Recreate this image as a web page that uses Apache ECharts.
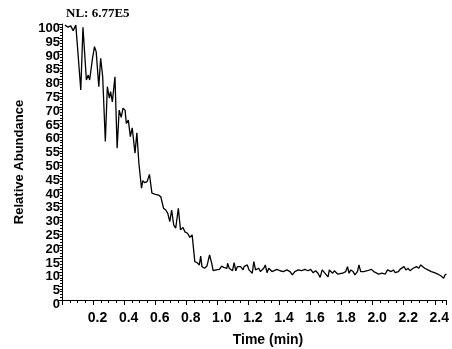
<!DOCTYPE html>
<html><head><meta charset="utf-8">
<script src="https://cdn.jsdelivr.net/npm/echarts@6/dist/echarts.min.js"></script>
<style>html,body{margin:0;padding:0;background:#fff}#c{width:452px;height:349px}</style>
</head><body><div id="c"></div>
<script>
const times = [0.019,0.040,0.055,0.072,0.089,0.121,0.135,0.157,0.169,0.178,0.195,0.209,0.220,0.237,0.249,0.262,0.279,0.292,0.305,0.313,0.324,0.341,0.355,0.368,0.381,0.393,0.406,0.414,0.427,0.440,0.452,0.470,0.482,0.495,0.512,0.520,0.533,0.548,0.563,0.579,0.601,0.622,0.636,0.654,0.668,0.681,0.694,0.706,0.719,0.732,0.749,0.763,0.779,0.791,0.808,0.823,0.838,0.855,0.871,0.884,0.893,0.901,0.918,0.933,0.950,0.964,0.973,0.992,1.013,1.028,1.041,1.049,1.062,1.066,1.077,1.087,1.098,1.108,1.119,1.129,1.140,1.150,1.166,1.172,1.182,1.193,1.204,1.214,1.225,1.235,1.246,1.256,1.267,1.277,1.288,1.299,1.309,1.320,1.331,1.341,1.352,1.362,1.383,1.404,1.426,1.447,1.468,1.483,1.499,1.521,1.542,1.563,1.584,1.601,1.616,1.633,1.648,1.662,1.675,1.690,1.700,1.713,1.721,1.728,1.743,1.753,1.764,1.775,1.785,1.806,1.827,1.838,1.848,1.859,1.874,1.886,1.902,1.912,1.923,1.933,1.944,1.954,1.965,1.975,1.992,2.007,2.018,2.039,2.060,2.081,2.096,2.107,2.119,2.134,2.145,2.155,2.166,2.176,2.187,2.202,2.214,2.229,2.240,2.251,2.261,2.272,2.282,2.297,2.310,2.322,2.335,2.356,2.378,2.398,2.419,2.441,2.457,2.466,2.475];
const abundance = [99.6,98.8,99.4,97.6,99.6,76.1,98.8,79.7,81.5,79.7,87.0,91.8,90.0,77.3,87.6,80.9,57.4,77.3,73.1,75.5,71.8,80.9,55.0,68.8,66.2,69.5,68.8,64.0,65.2,59.2,62.4,53.2,60.6,49.5,40.5,43.2,42.5,42.9,45.5,38.7,38.3,38.0,37.4,33.2,32.6,31.4,28.4,32.6,27.2,26.0,33.2,25.4,26.3,24.7,24.2,22.7,23.6,13.9,13.5,12.7,15.9,12.1,11.5,12.3,16.3,13.3,10.6,10.9,11.1,12.3,11.8,12.3,11.5,13.3,11.5,12.1,10.6,13.5,10.6,12.1,11.5,12.1,10.9,12.1,11.5,12.7,10.9,11.5,9.7,13.9,10.9,11.1,11.5,10.3,10.6,11.5,12.7,9.9,11.5,10.9,10.3,10.9,11.1,10.6,10.3,10.9,10.3,9.1,10.3,10.9,10.6,11.1,10.6,11.1,9.9,10.6,9.7,8.2,10.9,9.9,10.6,8.4,10.9,11.5,9.7,10.6,10.3,9.4,9.7,9.7,10.3,12.1,9.7,10.9,10.3,9.1,10.3,12.7,10.3,9.7,10.3,10.9,10.6,10.3,11.1,10.3,9.9,9.4,9.7,9.4,10.9,11.5,10.3,10.9,9.9,10.6,10.3,11.1,10.6,12.1,10.9,11.5,10.6,11.1,11.5,10.9,12.1,11.5,12.7,12.1,11.5,10.9,10.3,9.9,9.4,8.7,7.9,9.1,9.4];
const normLevel = 'NL: 6.77E5';
const xTitle = 'Time (min)';
const yTitle = 'Relative Abundance';

const chart = echarts.init(document.getElementById('c'), null, {renderer: 'canvas'});
const sans = 'Liberation Sans, Arial, sans-serif';
chart.setOption({
  animation: false,
  backgroundColor: '#fff',
  grid: {left: 62, top: 24, right: 0, bottom: 49, containLabel: false},
  xAxis: {
    type: 'value', min: 0, max: 2.475, interval: 0.2,
    axisLine: {show: true, lineStyle: {color: '#000', width: 1}},
    axisTick: {show: true, length: 5, lineStyle: {color: '#000'}},
    minorTick: {show: true, splitNumber: 4, length: 3, lineStyle: {color: '#000'}},
    splitLine: {show: false},
    axisLabel: {showMinLabel: false, showMaxLabel: false, margin: 11, padding: [0,0,0,9],
      color: '#000', fontFamily: sans, fontWeight: 'bold', fontSize: 14,
      formatter: v => v.toFixed(1)}
  },
  yAxis: {
    type: 'value', min: 0, max: 100, interval: 5,
    name: yTitle, nameLocation: 'middle', nameRotate: 90, nameGap: 36,
    nameTextStyle: {color: '#000', fontFamily: sans, fontWeight: 'bold', fontSize: 13},
    axisLine: {show: true, lineStyle: {color: '#000', width: 1}},
    axisTick: {show: true, length: 4, lineStyle: {color: '#000'}},
    minorTick: {show: true, splitNumber: 5, length: 2, lineStyle: {color: '#000'}},
    splitLine: {show: false},
    axisLabel: {margin: 2, verticalAlign: 'top', lineHeight: 9, color: '#000', fontFamily: sans, fontWeight: 'bold', fontSize: 13}
  },
  graphic: [
    {type: 'text', left: 66, top: 7, style: {text: normLevel, fill: '#000', font: 'bold 13px "Liberation Serif", "Times New Roman", serif'}},
    {type: 'text', x: 268, y: 340, style: {text: xTitle, fill: '#000', font: 'bold 14px ' + sans, textAlign: 'center', textVerticalAlign: 'middle'}}
  ],
  series: [{
    type: 'line', showSymbol: false, symbol: 'none', clip: true,
    lineStyle: {color: '#000', width: 1.3},
    data: times.map((t, i) => [t, abundance[i]])
  }]
});
</script></body></html>
